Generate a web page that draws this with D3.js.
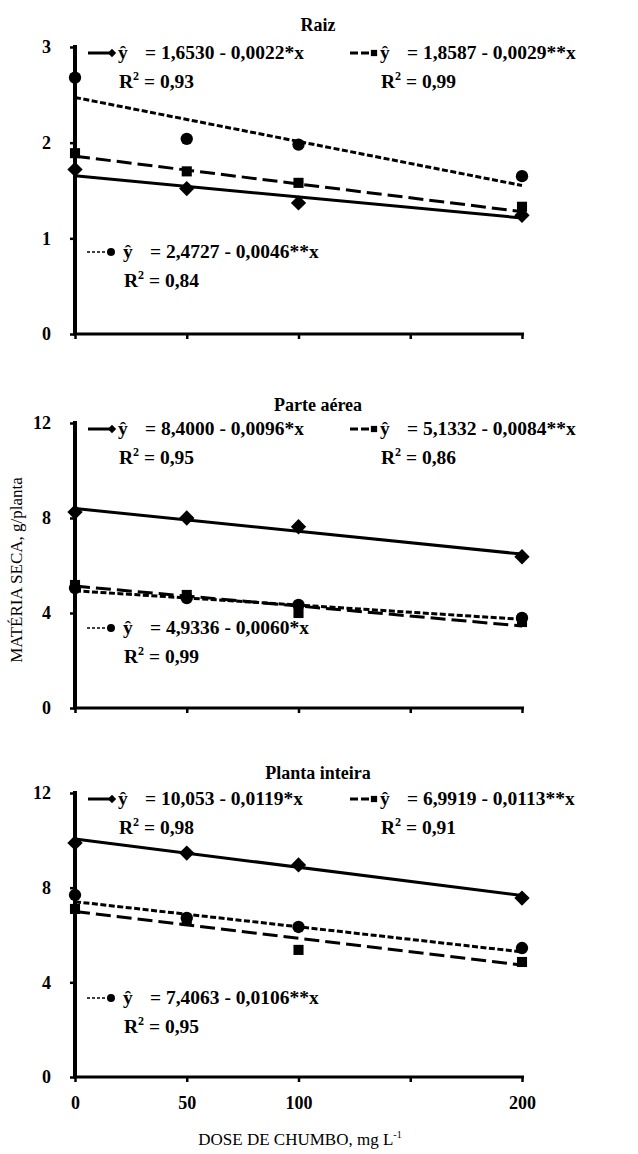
<!DOCTYPE html>
<html>
<head>
<meta charset="utf-8">
<script src="https://cdn.jsdelivr.net/npm/d3@7"></script>
<style>
  body { margin: 0; background: #fff; }
  svg text { font-family: "Liberation Serif", "Times New Roman", serif !important; }
</style>
</head>
<body>
<div id="chart"></div>
<script>
// doses (x) and axis ticks
const doses = [0, 50, 100, 200];
const xTicks = [0, 50, 100, 150, 200];
const xTickLabels = ['0', '50', '100', '', '200'];

const titles = ['Raiz', 'Parte aérea', 'Planta inteira'];
const yMax = [3, 12, 12];
const yTickSets = [[0, 1, 2, 3], [0, 4, 8, 12], [0, 4, 8, 12]];

// observed points: diamond / square / circle series per panel
const raizDiamond = [1.72, 1.52, 1.37, 1.24];
const raizSquare = [1.89, 1.70, 1.58, 1.33];
const raizCircle = [2.68, 2.04, 1.98, 1.65];

const aereaDiamond = [8.25, 8.0, 7.63, 6.37];
const aereaSquare = [5.18, 4.76, 4.0, 3.62];
const aereaCircle = [5.05, 4.63, 4.34, 3.79];

const inteiraDiamond = [9.89, 9.46, 8.96, 7.56];
const inteiraSquare = [7.1, 6.59, 5.37, 4.86];
const inteiraCircle = [7.69, 6.72, 6.34, 5.45];

// fitted lines, value at dose 0 and dose 200
const raizTrend = [[1.653, 1.213], [1.8587, 1.2787], [2.4727, 1.5527]];
const aereaTrend = [[8.4, 6.48], [5.1332, 3.4532], [4.9336, 3.7336]];
const inteiraTrend = [[10.053, 7.673], [6.9919, 4.7319], [7.4063, 5.2863]];

// equations and R2 (diamond, square, circle)
const raizEq = ['= 1,6530 - 0,0022*x', '= 1,8587 - 0,0029**x', '= 2,4727 - 0,0046**x'];
const raizR2 = ['0,93', '0,99', '0,84'];
const aereaEq = ['= 8,4000 - 0,0096*x', '= 5,1332 - 0,0084**x', '= 4,9336 - 0,0060*x'];
const aereaR2 = ['0,95', '0,86', '0,99'];
const inteiraEq = ['= 10,053 - 0,0119*x', '= 6,9919 - 0,0113**x', '= 7,4063 - 0,0106**x'];
const inteiraR2 = ['0,98', '0,91', '0,95'];

const panels = [
  { series: [raizDiamond, raizSquare, raizCircle], trend: raizTrend, eq: raizEq, r2: raizR2 },
  { series: [aereaDiamond, aereaSquare, aereaCircle], trend: aereaTrend, eq: aereaEq, r2: aereaR2 },
  { series: [inteiraDiamond, inteiraSquare, inteiraCircle], trend: inteiraTrend, eq: inteiraEq, r2: inteiraR2 }
];

const width = 638, height = 1154;
const svg = d3.select('#chart').append('svg')
  .attr('width', width).attr('height', height);

const x = d3.scaleLinear().domain([0, 200]).range([75, 522]);

// panel vertical placement: [top, bottom] pixel for the y axis
const panelBox = [[47, 334], [423, 708], [793, 1077]];
const titleY = [31, 411, 779];

const dashes = [null, '15,6', '6,2.5'];
const symbols = [d3.symbolDiamond2, d3.symbolSquare2, d3.symbolCircle];
const symSize = [150, 130, 120];

// legend positions relative to panel top
const legendPos = [
  { x: 88, dy: 6 },
  { x: 350, dy: 6 },
  { x: 87, dy: 205 }
];

function marker(g, i, cx, cy, s) {
  g.append('path')
    .attr('d', d3.symbol(symbols[i], s || symSize[i])())
    .attr('transform', `translate(${cx},${cy})`)
    .attr('fill', '#000');
}

panels.forEach((p, k) => {
  const [top, bottom] = panelBox[k];
  const y = d3.scaleLinear().domain([0, yMax[k]]).range([bottom, top]);
  const g = svg.append('g');

  g.append('text')
    .attr('x', 318).attr('y', titleY[k])
    .attr('text-anchor', 'middle')
    .attr('font-weight', 'bold').attr('font-size', 18)
    .text(titles[k]);

  // y axis
  const yAxis = g.append('g')
    .attr('transform', `translate(${x(0)},0)`)
    .call(d3.axisLeft(y).tickValues(yTickSets[k]).tickFormat(d3.format('d'))
      .tickSize(5).tickPadding(19));
  yAxis.select('.domain').attr('stroke-width', 4).attr('d', `M0,${top - 2}V${bottom + 1}`);
  yAxis.selectAll('.tick line').attr('stroke-width', 2.5);
  yAxis.selectAll('.tick text')
    .attr('font-weight', 'bold').attr('font-size', 18).attr('fill', '#000');

  // x axis
  const xAxis = g.append('g')
    .attr('transform', `translate(0,${bottom})`)
    .call(d3.axisBottom(x).tickValues(xTicks).tickSize(5)
      .tickFormat((d, i) => k === 2 ? xTickLabels[i] : ''));
  xAxis.select('.domain').attr('stroke-width', 3).attr('d', `M${x(0) - 2},0H${x(200) + 2}`);
  xAxis.selectAll('.tick line').attr('stroke-width', 2.5);
  xAxis.selectAll('.tick text')
    .attr('font-weight', 'bold').attr('font-size', 18).attr('fill', '#000')
    .attr('dy', '1.35em');

  // trend lines
  p.trend.forEach((t, i) => {
    g.append('line')
      .attr('x1', x(0)).attr('y1', y(t[0]))
      .attr('x2', x(200)).attr('y2', y(t[1]))
      .attr('stroke', '#000').attr('stroke-width', 3)
      .attr('stroke-dasharray', dashes[i]);
  });

  // points
  p.series.forEach((vals, i) => {
    vals.forEach((v, j) => marker(g, i, x(doses[j]), y(v)));
  });

  // legend entries
  p.eq.forEach((eq, i) => {
    const lp = legendPos[i];
    const ly = top + lp.dy;
    const lg = g.append('g');
    lg.append('line')
      .attr('x1', lp.x).attr('y1', ly).attr('x2', lp.x + 24).attr('y2', ly)
      .attr('stroke', '#000').attr('stroke-width', i === 2 ? 1.5 : 3)
      .attr('stroke-dasharray', i === 1 ? '8,3' : (i === 2 ? '3,2' : null));
    marker(lg, i, lp.x + 24, ly, i === 0 ? 45 : 50);
    const tx = lp.x + 30 + (i === 2 ? 6 : 0);
    lg.append('text')
      .attr('x', tx).attr('y', ly + 6)
      .attr('font-weight', 'bold').attr('font-size', 19.5)
      .text('ŷ');
    lg.append('text')
      .attr('x', tx + 27).attr('y', ly + 6)
      .attr('font-weight', 'bold').attr('font-size', 19.5)
      .text(eq);
    const r = lg.append('text')
      .attr('x', tx + 1).attr('y', ly + 35)
      .attr('font-weight', 'bold').attr('font-size', 19.5);
    r.append('tspan').text('R');
    r.append('tspan').attr('font-size', 12).attr('dy', -8).text('2');
    r.append('tspan').attr('dy', 8).text(' = ' + p.r2[i]);
  });
});

// axis titles
svg.append('text')
  .attr('transform', 'translate(22,570) rotate(-90)')
  .attr('text-anchor', 'middle').attr('font-size', 17)
  .text('MATÉRIA SECA, g/planta');

const xl = svg.append('text')
  .attr('x', 300).attr('y', 1145)
  .attr('text-anchor', 'middle').attr('font-size', 17);
xl.append('tspan').text('DOSE DE CHUMBO, mg L');
xl.append('tspan').attr('font-size', 10).attr('dy', -7).text('-1');
</script>
</body>
</html>
